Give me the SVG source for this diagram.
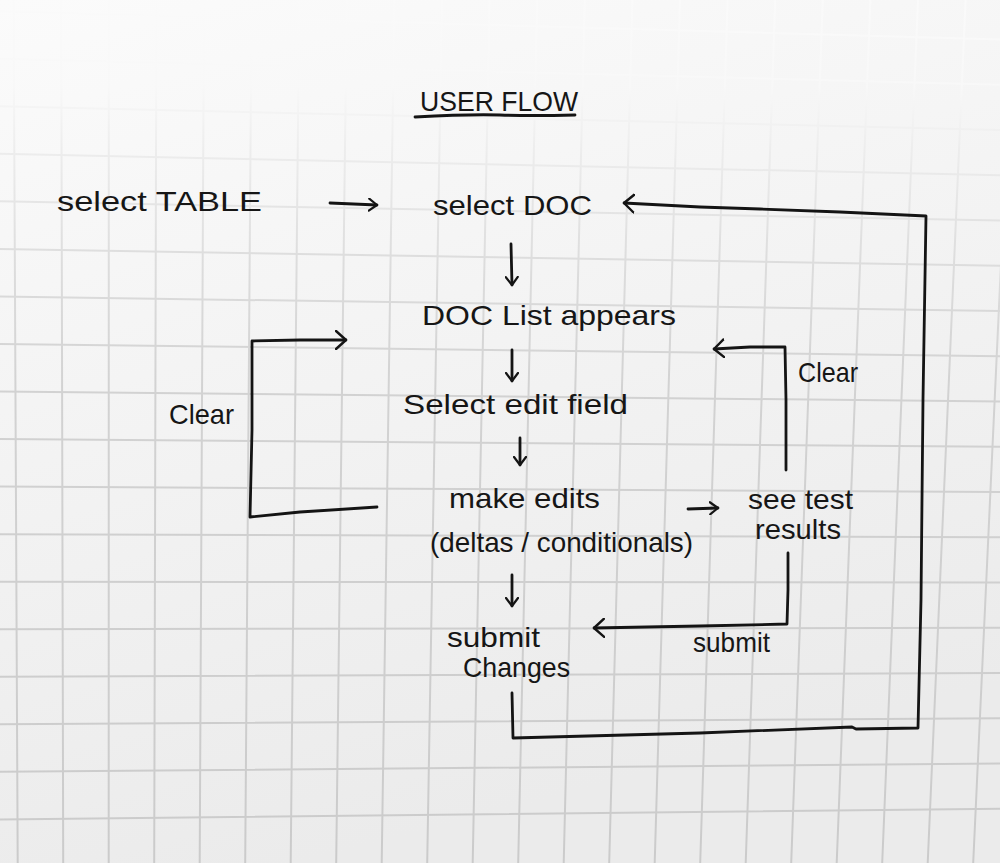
<svg xmlns="http://www.w3.org/2000/svg" width="1000" height="863" viewBox="0 0 1000 863">
<defs>
<linearGradient id="paper" x1="0" y1="0" x2="0.3" y2="1">
<stop offset="0" stop-color="#fbfbfb"/>
<stop offset="0.5" stop-color="#f3f3f3"/>
<stop offset="1" stop-color="#ebebeb"/>
</linearGradient>
<linearGradient id="gridcol" gradientUnits="userSpaceOnUse" x1="0" y1="0" x2="0" y2="863">
<stop offset="0" stop-color="#fafafa"/>
<stop offset="0.1" stop-color="#f8f8f8"/>
<stop offset="0.18" stop-color="#ececec"/>
<stop offset="0.3" stop-color="#dddddd"/>
<stop offset="0.45" stop-color="#d2d2d2"/>
<stop offset="1" stop-color="#cbcbcb"/>
</linearGradient>
<marker id="arr" viewBox="0 0 12 20" refX="11" refY="10" markerWidth="12" markerHeight="20" markerUnits="userSpaceOnUse" orient="auto">
<path d="M1,1 L11,10 L1,19" fill="none" stroke="#141414" stroke-width="2.4" stroke-linecap="round" stroke-linejoin="round"/>
</marker>
<marker id="arrs" viewBox="0 0 10 14" refX="9" refY="7" markerWidth="10" markerHeight="14" markerUnits="userSpaceOnUse" orient="auto">
<path d="M1,1 L9,7 L1,13" fill="none" stroke="#141414" stroke-width="2.2" stroke-linecap="round" stroke-linejoin="round"/>
</marker>
<style>
.grid{fill:none;stroke:url(#gridcol);stroke-width:2}
.ink{fill:none;stroke:#141414;stroke-width:2.8;stroke-linecap:round;stroke-linejoin:round}
.txt{font-family:"Liberation Sans","DejaVu Sans",sans-serif;fill:#161616;font-size:28px}
</style>
</defs>
<rect x="0" y="0" width="1000" height="863" fill="url(#paper)"/>
<g id="grid">
<path class="grid" d="M0,11.2 L1000,39.4 M0,58.7 L1000,84.7 M0,106.3 L1000,129.9 M0,153.8 L1000,175.2 M0,201.3 L1000,220.5 M0,248.9 L1000,265.7 M0,296.4 L1000,311 M0,343.9 L1000,356.2 M0,391.5 L1000,401.5 M0,439 L1000,446.8 M0,486.5 L1000,492.1 M0,534.3 L1000,537.3 M0,581.7 L1000,582.5 M0,629.2 L1000,627.8 M0,676.7 L1000,673.1 M0,724.3 L1000,718.3 M0,771.8 L1000,763.6 M0,819.4 L1000,808.8"/>
<path class="grid" d="M13.6,0 L17.7,863 M61.2,0 L63.2,863 M108.8,0 L108.7,863 M156.4,0 L154.2,863 M204,0 L199.7,863 M251.6,0 L245.2,863 M299.2,0 L290.7,863 M346.8,0 L336.2,863 M394.4,0 L381.7,863 M442,0 L427.2,863 M489.6,0 L472.7,863 M537.2,0 L518.2,863 M584.8,0 L563.7,863 M632.4,0 L609.2,863 M680,0 L654.7,863 M727.6,0 L700.2,863 M775.2,0 L745.7,863 M822.8,0 L791.2,863 M870.4,0 L836.7,863 M918,0 L882.2,863 M965.6,0 L927.7,863 M1013.2,0 L973.2,863"/>
</g>

<g id="title">
<text class="txt" x="420" y="111" font-size="30" textLength="158" lengthAdjust="spacingAndGlyphs">USER FLOW</text>
<path class="ink" d="M415,117 Q470,114 500,115 T575,115"/>
</g>

<g id="connectors">
<path class="ink" d="M330,203 L377,205" marker-end="url(#arrs)"/>
<path class="ink" d="M511,244 L512,285" marker-end="url(#arrs)"/>
<path class="ink" d="M512,350 L512,381" marker-end="url(#arrs)"/>
<path class="ink" d="M520,438 L520,465" marker-end="url(#arrs)"/>
<path class="ink" d="M512,575 L512,606" marker-end="url(#arrs)"/>
<path class="ink" d="M688,509 L718,508" marker-end="url(#arrs)"/>
<path class="ink" d="M377,507 L300,512 L250,517 L252,430 L252,341 L300,340 L346,340" marker-end="url(#arr)"/>
<path class="ink" d="M786,470 L786,400 L785,347 L750,347 L714,349" marker-end="url(#arr)"/>
<path class="ink" d="M788,553 L788,590 L787,624 L700,626 L594,628" marker-end="url(#arr)"/>
<path class="ink" d="M512,693 L513,738 L700,733 L852,727 L856,729 L918,728 L921,600 L923,400 L926,216 L840,212 L760,209 L700,207 L624,203" marker-end="url(#arr)"/>
</g>

<g id="n-select-table"><text class="txt" x="57" y="211" textLength="205" lengthAdjust="spacingAndGlyphs">select TABLE</text></g>
<g id="n-select-doc"><text class="txt" x="433" y="215" textLength="159" lengthAdjust="spacingAndGlyphs">select DOC</text></g>
<g id="n-doc-list"><text class="txt" x="422" y="325" textLength="254" lengthAdjust="spacingAndGlyphs">DOC List appears</text></g>
<g id="n-select-edit"><text class="txt" x="403" y="414" textLength="225" lengthAdjust="spacingAndGlyphs">Select edit field</text></g>
<g id="n-make-edits">
<text class="txt" x="449" y="508" textLength="151" lengthAdjust="spacingAndGlyphs">make edits</text>
<text class="txt" x="430" y="552" textLength="263" lengthAdjust="spacingAndGlyphs">(deltas / conditionals)</text>
</g>
<g id="n-see-test">
<text class="txt" x="748" y="509" textLength="105" lengthAdjust="spacingAndGlyphs">see test</text>
<text class="txt" x="755" y="539" textLength="86" lengthAdjust="spacingAndGlyphs">results</text>
</g>
<g id="n-submit-changes">
<text class="txt" x="447" y="647" textLength="93" lengthAdjust="spacingAndGlyphs">submit</text>
<text class="txt" x="463" y="677" textLength="107" lengthAdjust="spacingAndGlyphs">Changes</text>
</g>
<g id="labels">
<text class="txt" x="169" y="424" textLength="65" lengthAdjust="spacingAndGlyphs">Clear</text>
<text class="txt" x="798" y="382" textLength="60" lengthAdjust="spacingAndGlyphs">Clear</text>
<text class="txt" x="693" y="652" textLength="77" lengthAdjust="spacingAndGlyphs">submit</text>
</g>
</svg>
